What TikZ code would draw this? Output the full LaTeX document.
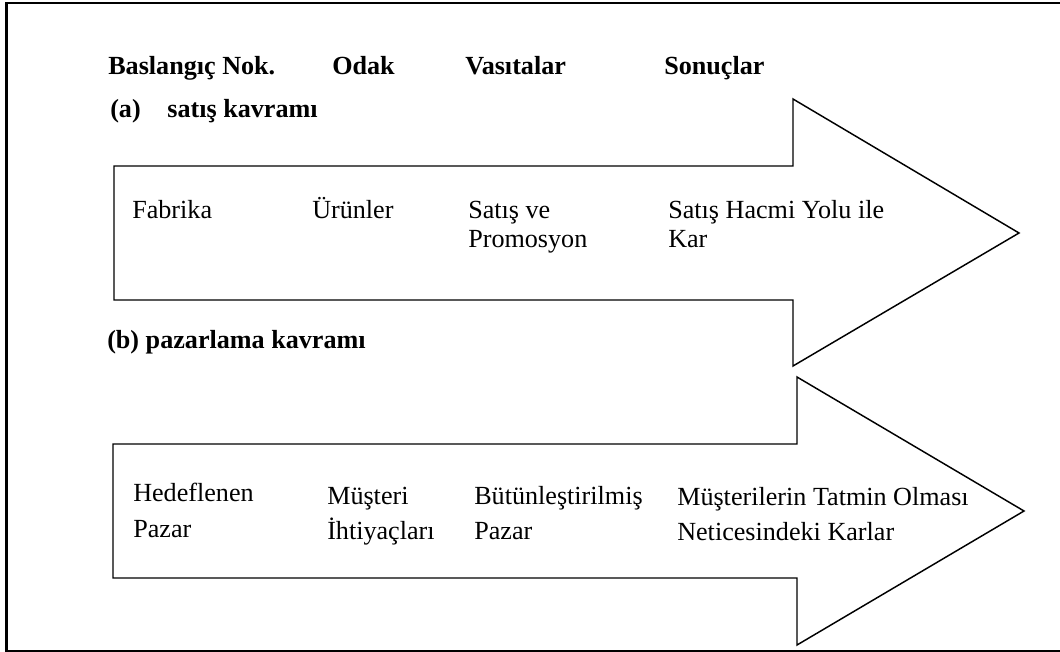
\documentclass[tikz,border=0pt]{standalone}
\usepackage{fontspec}
\setmainfont{Liberation Serif}
\begin{document}
\begin{tikzpicture}[x=0.75pt,y=-0.75pt,
  arrowshape/.style={draw=black,line width=1.1pt,line join=miter},
  frameline/.style={draw=black,line width=1.6pt},
  headtxt/.style={anchor=base west,inner sep=0pt,font=\fontsize{19.6}{22}\selectfont\bfseries},
  plaintxt/.style={anchor=base west,inner sep=0pt,font=\fontsize{19.6}{21.75}\selectfont},
  bodyA/.style={anchor=base west,inner sep=0pt,align=left,font=\fontsize{19.6}{21.75}\selectfont},
  bodyB/.style={anchor=base west,inner sep=0pt,align=left,font=\fontsize{19.6}{26.6}\selectfont}]
\useasboundingbox (0,0) rectangle (1060,652);
% frame
\draw[frameline] (1070,3) -- (6.5,3) -- (6.5,651) -- (1070,651);
% arrows
\draw[arrowshape] (114,166) -- (793,166) -- (793,99) -- (1019,233) -- (793,366) -- (793,300) -- (114,300) -- cycle;
\draw[arrowshape] (113,444) -- (797,444) -- (797,377) -- (1024,511) -- (797,645) -- (797,578) -- (113,578) -- cycle;
% header
\node[headtxt] (h1) at (108,75) {Baslangıç Nok.};
\node[headtxt] (h2) at (332,75) {Odak};
\node[headtxt] (h3) at (465,75) {Vasıtalar};
\node[headtxt] (h4) at (664,75) {Sonuçlar};
\node[headtxt] (la) at (110,118) {(a)\hspace{20pt}satış kavramı};
\node[headtxt] (lb) at (107,348) {(b) pazarlama kavramı};
% row a
\node[plaintxt] (a1) at (132,219) {Fabrika};
\node[plaintxt] (a2) at (312,219) {Ürünler};
\node[bodyA] (a3) at (468,248) {Satış ve\\Promosyon};
\node[bodyA] (a4) at (668,248) {Satış Hacmi Yolu ile\\Kar};
% row b
\node[bodyB] (b1) at (133,537) {Hedeflenen\\Pazar};
\node[bodyB] (b2) at (327,539.5) {Müşteri\\İhtiyaçları};
\node[bodyB] (b3) at (474,539.5) {Bütünleştirilmiş\\Pazar};
\node[bodyB] (b4) at (677,540.5) {Müşterilerin Tatmin Olması\\Neticesindeki Karlar};
\end{tikzpicture}
\end{document}
